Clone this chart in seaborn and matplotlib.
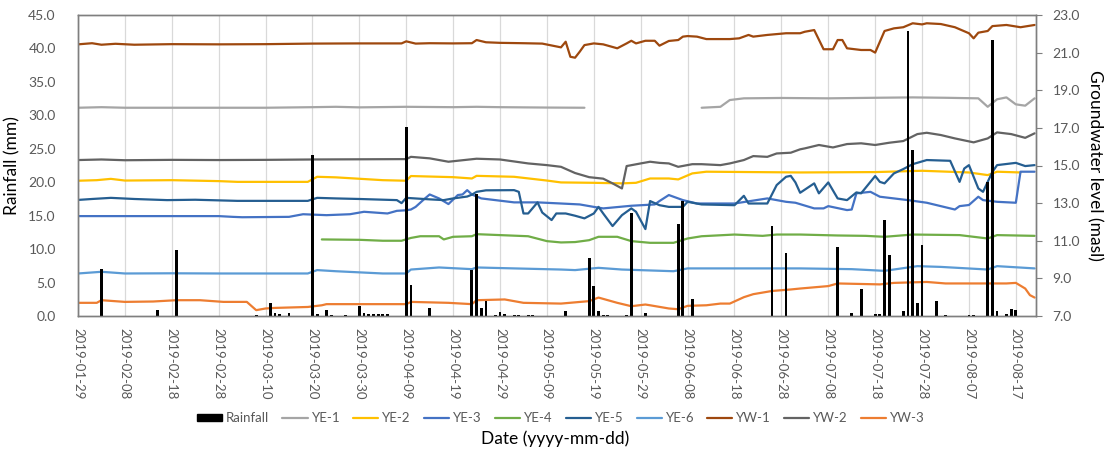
import numpy as np
import pandas as pd
import matplotlib
matplotlib.use("Agg")
import matplotlib.pyplot as plt
import matplotlib.dates as mdates
from matplotlib.ticker import MultipleLocator, FormatStrFormatter
from matplotlib.patches import Patch
from matplotlib.lines import Line2D
import seaborn as sns

sns.set_theme(style="white")
plt.rcParams["font.family"] = ["Lato", "DejaVu Sans"]

START = pd.Timestamp("2019-01-29")

# ---- daily rainfall (day offset from START, mm) ----
rain_day = [5, 17, 21, 38, 41, 42, 43, 45, 50, 51, 53, 54, 57, 60, 61, 62, 63, 64, 65, 66,
            70, 71, 75, 84, 85, 86, 87, 89, 90, 91, 93, 94, 96, 97, 104, 109, 110, 111, 112,
            113, 117, 118, 121, 128, 129, 131, 148, 151, 162, 165, 167, 170, 171, 172, 173,
            176, 177, 178, 179, 180, 183, 185, 190, 191, 194, 195, 196, 198, 199, 200]
rain_mm = [7.1, 0.9, 9.9, 0.2, 2.0, 0.4, 0.3, 0.5, 24.0, 0.3, 0.9, 0.2, 0.2, 1.5, 0.5, 0.3, 0.3,
           0.3, 0.3, 0.3, 28.3, 4.6, 1.2, 6.9, 18.2, 1.2, 2.2, 0.2, 0.6, 0.3, 0.2, 0.2, 0.2, 0.2,
           0.8, 8.6, 4.5, 0.7, 0.2, 0.2, 0.2, 15.4, 0.5, 13.7, 17.2, 2.5, 13.4, 9.4, 10.3, 0.5,
           4.1, 0.3, 0.3, 14.4, 9.1, 0.7, 42.6, 24.8, 1.9, 10.6, 2.2, 0.2, 0.2, 0.2, 20.0, 41.3,
           0.7, 0.3, 1.0, 0.9]

# ---- groundwater levels (day offset from START, masl) ----
ye1_day = [0, 5, 10, 20, 30, 40, 50, 55, 60, 70, 80, 85, 90, 100, 108, 120,
           133, 137, 139, 142, 150, 160, 170, 178, 185, 192, 194, 196, 198, 200, 202, 204]
ye1_m = [18.07, 18.1, 18.07, 18.07, 18.07, 18.07, 18.1, 18.12, 18.09, 18.12, 18.1, 18.12, 18.1,
         18.08, 18.07, np.nan,
         18.07, 18.12, 18.48, 18.57, 18.59, 18.57, 18.6, 18.62, 18.6, 18.57, 18.12, 18.52, 18.62,
         18.25, 18.18, 18.57]

ye2_day = [0, 4, 7, 10, 20, 30, 34, 49, 51, 55, 65, 70, 71, 80, 84, 85, 93, 100, 103, 110,
           116, 119, 122, 126, 128, 131, 134, 154, 170, 180, 190, 194, 196, 201]
ye2_m = [14.19, 14.22, 14.29, 14.2, 14.22, 14.17, 14.13, 14.13, 14.4, 14.37, 14.22, 14.19, 14.44,
         14.38, 14.31, 14.45, 14.4, 14.2, 14.1, 14.08, 14.05, 14.08, 14.31, 14.31, 14.26, 14.58,
         14.67, 14.63, 14.65, 14.72, 14.63, 14.49, 14.67, 14.63]

ye3_day = [0, 10, 20, 30, 33, 35, 45, 48, 50, 53, 58, 61, 66, 68, 70, 71, 72, 74, 75, 77, 79,
           81, 82, 83, 84, 86, 89, 93, 98, 103, 107, 110, 112, 118, 123, 124, 126, 129, 132,
           140, 147, 151, 153, 157, 159, 160, 164, 165, 166, 169, 171, 177, 181, 187, 188, 190,
           192, 193, 196, 200, 201, 204]
ye3_m = [12.31, 12.31, 12.31, 12.31, 12.27, 12.25, 12.27, 12.41, 12.39, 12.36, 12.41, 12.54,
         12.45, 12.59, 12.62, 12.66, 12.8, 13.25, 13.46, 13.25, 12.95, 13.43, 13.46, 13.69, 13.46,
         13.25, 13.16, 13.04, 13.04, 12.98, 12.93, 12.8, 12.72, 12.86, 12.93, 13.11, 13.43, 13.16,
         12.98, 12.98, 13.25, 13.07, 13.02, 12.72, 12.72, 12.84, 12.63, 12.66, 13.52, 13.6, 13.34,
         13.16, 13.02, 12.66, 12.84, 12.9, 13.34, 13.16, 13.07, 13.02, 14.67, 14.67]

ye4_day = [52, 60, 65, 69, 71, 73, 77, 78, 80, 84, 85, 90, 96, 100, 103, 106, 109, 111, 115,
           118, 122, 127, 130, 133, 140, 146, 149, 154, 162, 168, 172, 178, 188, 194, 196, 204]
ye4_m = [11.07, 11.05, 11.0, 11.0, 11.15, 11.24, 11.24, 11.07, 11.21, 11.24, 11.35, 11.3, 11.24,
         10.98, 10.91, 10.93, 11.03, 11.21, 11.21, 10.98, 10.89, 10.89, 11.12, 11.24, 11.33, 11.26,
         11.33, 11.33, 11.28, 11.26, 11.21, 11.33, 11.3, 11.12, 11.3, 11.26]

ye5_day = [0, 3, 7, 12, 19, 25, 34, 49, 51, 55, 60, 68, 69, 70, 75, 78, 80, 83, 84, 85, 87, 93,
           94, 95, 96, 98, 99, 101, 102, 104, 106, 108, 110, 111, 112, 114, 116, 118, 119, 121,
           122, 124, 126, 129, 130, 133, 140, 142, 143, 147, 149, 151, 152, 153, 154, 157, 158,
           160, 162, 164, 166, 167, 170, 171, 172, 174, 176, 178, 181, 186, 188, 189, 190, 192,
           193, 195, 196, 200, 202, 204]
ye5_m = [13.17, 13.22, 13.28, 13.22, 13.16, 13.18, 13.12, 13.12, 13.28, 13.25, 13.22, 13.16,
         13.0, 13.28, 13.2, 13.16, 13.25, 13.35, 13.45, 13.6, 13.68, 13.69, 13.6, 12.45, 12.45,
         13.04, 12.5, 12.1, 12.45, 12.45, 12.33, 12.19, 12.45, 12.8, 12.45, 11.78, 12.36, 12.72,
         12.54, 11.62, 13.11, 12.89, 12.8, 12.8, 13.07, 12.93, 12.89, 13.39, 12.98, 12.98, 13.96,
         14.4, 14.45, 14.1, 13.55, 14.05, 13.52, 14.1, 13.25, 13.16, 13.57, 13.52, 14.44, 14.13,
         14.05, 14.58, 14.81, 15.07, 15.29, 15.25, 14.13, 14.84, 15.02, 13.78, 13.6, 14.66, 15.02,
         15.14, 14.97, 15.02]

ye6_day = [0, 5, 10, 20, 30, 40, 49, 51, 55, 65, 70, 71, 77, 84, 85, 93, 103, 106, 111, 116,
           127, 130, 154, 165, 172, 179, 184, 194, 196, 204]
ye6_m = [9.26, 9.35, 9.26, 9.27, 9.26, 9.26, 9.26, 9.44, 9.38, 9.26, 9.26, 9.47, 9.58, 9.49, 9.58,
         9.53, 9.47, 9.44, 9.56, 9.47, 9.38, 9.53, 9.53, 9.49, 9.4, 9.65, 9.61, 9.47, 9.65, 9.53]

yw1_day = [0, 3, 5, 8, 12, 20, 30, 40, 50, 60, 69, 70, 72, 75, 80, 84, 85, 87, 90, 95, 99, 103,
           104, 105, 106, 107, 108, 110, 112, 115, 117, 118, 119, 121, 123, 124, 126, 128, 129,
           130, 132, 134, 139, 141, 143, 144, 147, 151, 154, 155, 157, 159, 161, 162, 163, 164,
           167, 169, 170, 172, 174, 176, 178, 180, 181, 184, 187, 190, 191, 192, 194, 195, 198,
           201, 204]
yw1_m = [21.44, 21.5, 21.42, 21.47, 21.42, 21.45, 21.44, 21.45, 21.48, 21.49, 21.49, 21.6, 21.48,
         21.5, 21.49, 21.5, 21.67, 21.55, 21.52, 21.5, 21.48, 21.28, 21.58, 20.78, 20.73, 21.05,
         21.4, 21.49, 21.44, 21.23, 21.49, 21.63, 21.49, 21.63, 21.63, 21.37, 21.62, 21.67, 21.85,
         21.88, 21.85, 21.72, 21.72, 21.76, 21.94, 21.85, 21.94, 22.03, 22.03, 22.11, 22.2, 21.18,
         21.18, 21.67, 21.67, 21.23, 21.14, 21.14, 21.0, 22.15, 22.29, 22.35, 22.56, 22.5, 22.56,
         22.52, 22.35, 22.03, 21.76, 22.06, 22.15, 22.41, 22.47, 22.35, 22.47]

yw2_day = [0, 5, 10, 20, 30, 40, 50, 60, 70, 71, 75, 79, 85, 90, 96, 100, 103, 106, 109, 112,
           114, 116, 117, 120, 122, 124, 126, 128, 131, 133, 137, 139, 142, 144, 147, 149, 152,
           154, 155, 158, 161, 164, 167, 170, 173, 176, 179, 181, 184, 187, 191, 194, 196, 199,
           202, 204]
yw2_m = [15.29, 15.32, 15.28, 15.3, 15.29, 15.3, 15.32, 15.33, 15.34, 15.46, 15.38, 15.2, 15.36,
         15.32, 15.11, 15.02, 14.93, 14.6, 14.38, 14.3, 14.05, 13.78, 14.97, 15.11, 15.2, 15.14,
         15.11, 14.93, 15.07, 15.07, 15.02, 15.11, 15.29, 15.5, 15.46, 15.64, 15.68, 15.86, 15.91,
         16.09, 15.96, 16.14, 16.18, 16.09, 16.21, 16.3, 16.67, 16.74, 16.62, 16.44, 16.23, 16.44,
         16.76, 16.67, 16.47, 16.71]

yw3_day = [0, 4, 5, 10, 16, 21, 26, 31, 36, 38, 40, 42, 49, 52, 53, 70, 71, 79, 84, 85, 91, 95,
           103, 109, 111, 115, 118, 121, 122, 126, 128, 130, 134, 137, 139, 142, 144, 148, 152,
           154, 160, 162, 171, 174, 181, 185, 198, 200, 202, 203, 204]
yw3_m = [7.7, 7.7, 7.84, 7.75, 7.77, 7.84, 7.84, 7.75, 7.75, 7.31, 7.4, 7.43, 7.48, 7.57, 7.63,
         7.63, 7.75, 7.7, 7.63, 7.84, 7.88, 7.7, 7.66, 7.79, 7.98, 7.7, 7.52, 7.61, 7.57, 7.4, 7.36,
         7.54, 7.57, 7.66, 7.66, 8.0, 8.16, 8.33, 8.41, 8.46, 8.59, 8.73, 8.68, 8.76, 8.81, 8.73,
         8.73, 8.76, 8.46, 8.11, 7.98]

WELLS = {
    "YE-1": (ye1_day, ye1_m),
    "YE-2": (ye2_day, ye2_m),
    "YE-3": (ye3_day, ye3_m),
    "YE-4": (ye4_day, ye4_m),
    "YE-5": (ye5_day, ye5_m),
    "YE-6": (ye6_day, ye6_m),
    "YW-1": (yw1_day, yw1_m),
    "YW-2": (yw2_day, yw2_m),
    "YW-3": (yw3_day, yw3_m),
}
WELL_COLORS = {
    "YE-1": "#A5A5A5", "YE-2": "#FFC000", "YE-3": "#4472C4",
    "YE-4": "#70AD47", "YE-5": "#255E91", "YE-6": "#5B9BD5",
    "YW-1": "#9E480E", "YW-2": "#636363", "YW-3": "#ED7D31",
}

# long-form table; a NaN entry splits a record into separate line segments
frames = []
for name, (days, vals) in WELLS.items():
    d = pd.DataFrame({"day": days, "level": vals})
    d["segment"] = d["level"].isna().cumsum()
    d = d.dropna()
    d["date"] = START + pd.to_timedelta(d["day"], unit="D")
    d["well"] = name
    d["unit"] = name + "_" + d["segment"].astype(str)
    frames.append(d)
levels = pd.concat(frames, ignore_index=True)

rain = pd.DataFrame({"date": START + pd.to_timedelta(rain_day, unit="D"), "mm": rain_mm})

TEXT = "#595959"
SPINE = "#7F7F7F"

fig = plt.figure(figsize=(11.07, 4.51), dpi=100)
ax = fig.add_axes([78 / 1107, 1 - 316 / 451, (1036 - 78) / 1107, 301 / 451])
ax2 = ax.twinx()

# groundwater levels on the primary axes (scale shown on the right)
sns.lineplot(data=levels, x="date", y="level", hue="well", units="unit", estimator=None,
             hue_order=list(WELLS), palette=WELL_COLORS, linewidth=1.6, legend=False, ax=ax)
ax.yaxis.tick_right()
ax.yaxis.set_label_position("right")
ax.set_ylim(7, 23)
ax.set_yticks(np.arange(7, 23.5, 2))
ax.yaxis.set_major_formatter(FormatStrFormatter("%.1f"))
ax.set_ylabel("Groundwater level (masl)", fontsize=12.5, color="black", rotation=-90,
              labelpad=16)

# rainfall bars on the twin axes (scale shown on the left), drawn above the lines
ax2.bar(rain["date"], rain["mm"], width=0.6, color="black", linewidth=0)
ax2.yaxis.tick_left()
ax2.yaxis.set_label_position("left")
ax2.set_ylim(0, 45)
ax2.yaxis.set_major_locator(MultipleLocator(5))
ax2.yaxis.set_major_formatter(FormatStrFormatter("%.1f"))
ax2.set_ylabel("Rainfall (mm)", fontsize=12.5, color="black", labelpad=6)

# date axis
ax.set_xlim(START, START + pd.Timedelta(days=204.3))
ax.set_xticks(pd.date_range("2019-01-29", "2019-08-17", freq="10D"))
ax.xaxis.set_major_formatter(mdates.DateFormatter("%Y-%m-%d"))
ax.grid(axis="x", color="#D9D9D9", linewidth=0.9)
ax.grid(axis="y", visible=False)
ax.set_xlabel("Date (yyyy-mm-dd)", fontsize=12.5, color="black")
ax.xaxis.set_label_coords((555 - 78) / 958, (316 - 430) / 301)

ax.tick_params(axis="x", rotation=-90, length=0, pad=9, labelsize=9.5, labelcolor=TEXT)
ax.tick_params(axis="y", right=True, left=False, length=4, width=0.8, color=SPINE,
               direction="out", pad=8, labelsize=10, labelcolor=TEXT)
ax2.tick_params(axis="y", left=False, right=False, length=0, pad=16, labelsize=10,
                labelcolor=TEXT)

for a in (ax, ax2):
    for s in a.spines.values():
        s.set_color(SPINE)
        s.set_linewidth(1.0)

# legend along the bottom
handles = [Patch(facecolor="black", edgecolor="black", label="Rainfall")]
handles += [Line2D([], [], color=WELL_COLORS[w], linewidth=1.6, label=w) for w in WELLS]
leg = fig.legend(handles=handles, loc="center", bbox_to_anchor=(561 / 1107, 1 - 418 / 451),
                 ncol=10, frameon=False, fontsize=9.5, handlelength=1.9, handleheight=0.5,
                 handletextpad=0.3, columnspacing=1.0)
for t in leg.get_texts():
    t.set_color(TEXT)

fig.savefig("out.png", dpi=100, facecolor="white")
